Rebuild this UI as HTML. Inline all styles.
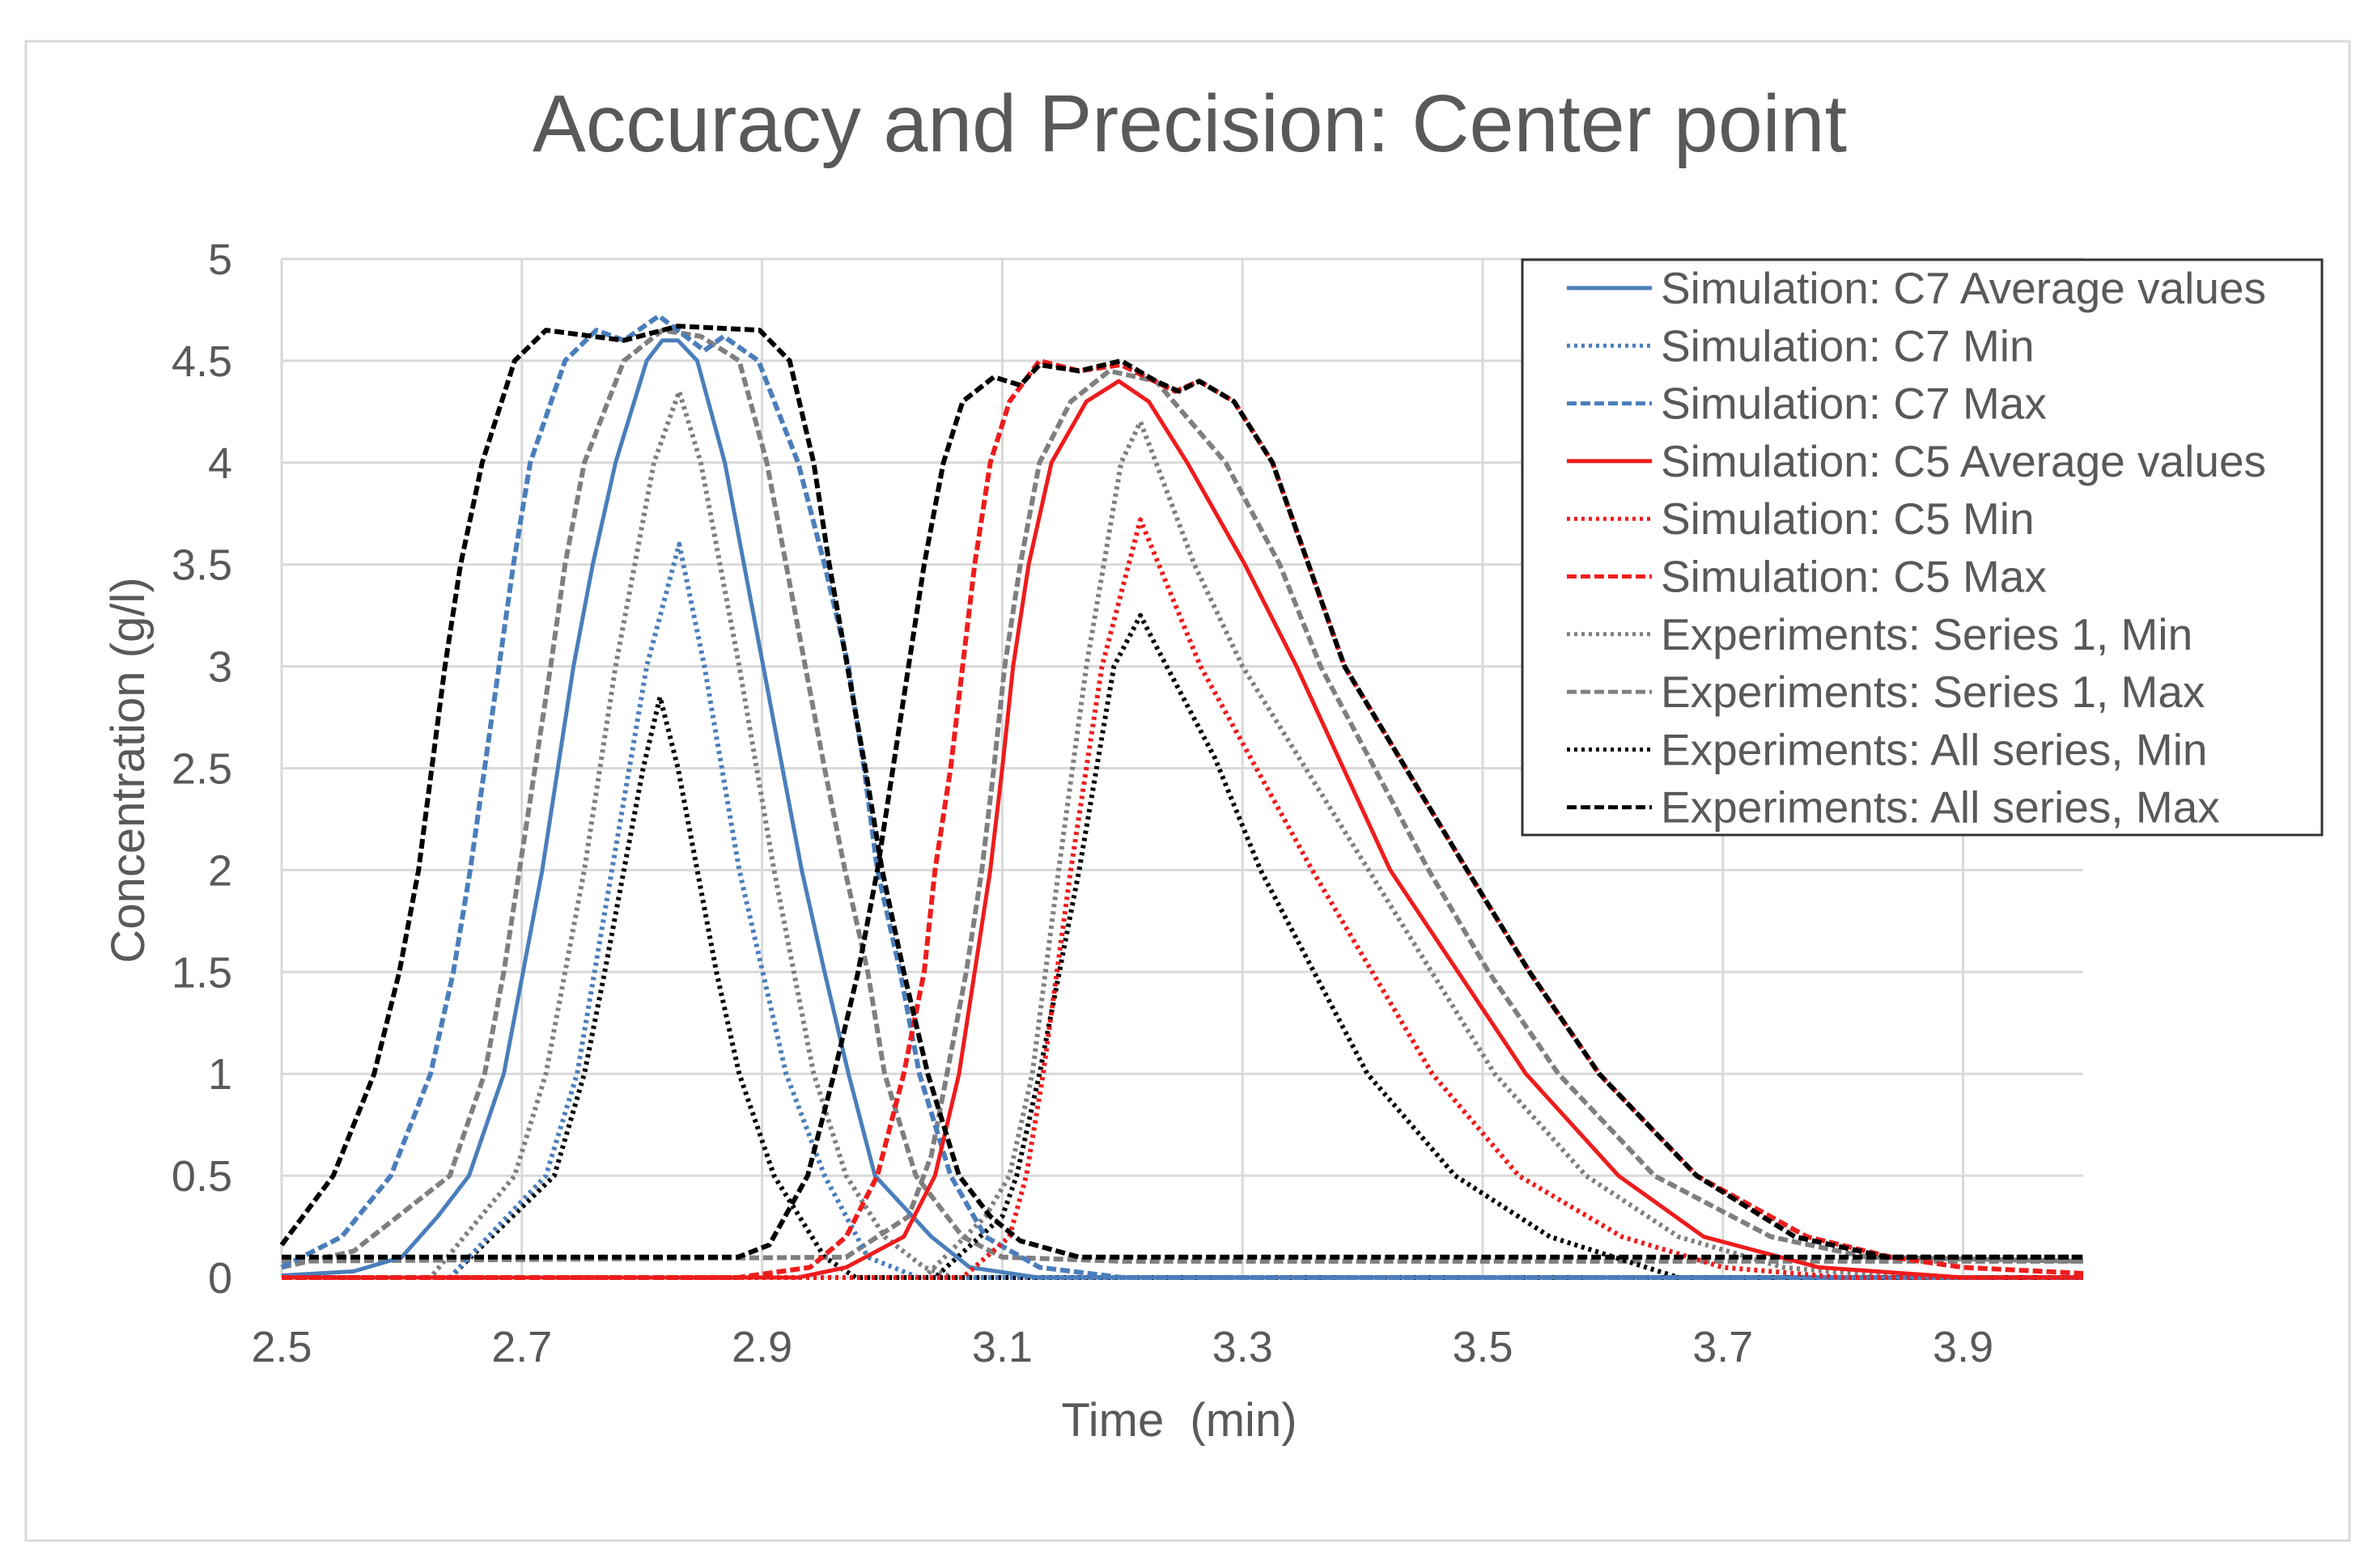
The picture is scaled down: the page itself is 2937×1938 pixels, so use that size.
<!DOCTYPE html>
<html><head><meta charset="utf-8"><style>
html,body{margin:0;padding:0;background:#fff;}
svg{display:block;font-family:"Liberation Sans",sans-serif;}
</style></head><body>
<svg id="chart" width="2937" height="1938" viewBox="0 0 2937 1938">
<rect x="32" y="51" width="2871" height="1853" fill="#fff" stroke="#d9d9d9" stroke-width="3"/>
<text x="1470" y="187" text-anchor="middle" font-size="100" fill="#595959" textLength="1624" lengthAdjust="spacingAndGlyphs">Accuracy and Precision: Center point</text>
<g id="grid"></g>
<g id="yticks"></g>
<g id="xticks"></g>
<g id="series"></g>
<text x="1457" y="1775" text-anchor="middle" font-size="58" fill="#595959" style="white-space:pre">Time&#160;&#160;(min)</text>
<text transform="translate(178,952) rotate(-90)" text-anchor="middle" font-size="58" fill="#595959">Concentration (g/l)</text>
<g id="legend">
<rect x="1881" y="321" width="988" height="711" fill="#fff" stroke="#333" stroke-width="3"/>
</g>
</svg>
<script>
const xTicks = [2.5, 2.7, 2.9, 3.1, 3.3, 3.5, 3.7, 3.9];
const yTicks = [0, 0.5, 1, 1.5, 2, 2.5, 3, 3.5, 4, 4.5, 5];
const xTickLabels = ["2.5","2.7","2.9","3.1","3.3","3.5","3.7","3.9"];
const yTickLabels = ["0","0.5","1","1.5","2","2.5","3","3.5","4","4.5","5"];
const seriesNames = ["Simulation: C7 Average values","Simulation: C7 Min","Simulation: C7 Max","Simulation: C5 Average values","Simulation: C5 Min","Simulation: C5 Max","Experiments: Series 1, Min","Experiments: Series 1, Max","Experiments: All series, Min","Experiments: All series, Max"];

// series data (x in min, y in g/l)
const c7AvgX = [2.5,2.56,2.6,2.63,2.656,2.685,2.701,2.717,2.73,2.743,2.759,2.778,2.804,2.817,2.83,2.846,2.869,2.885,2.901,2.917,2.933,2.952,2.972,2.994,3.041,3.073,3.13,4.0];
const c7AvgY = [0.01,0.03,0.1,0.3,0.5,1,1.5,2,2.5,3,3.5,4,4.5,4.6,4.6,4.5,4,3.5,3,2.5,2,1.5,1,0.5,0.2,0.05,0,0];
const c7MinX = [2.5,2.64,2.72,2.746,2.775,2.804,2.831,2.852,2.881,2.92,2.952,2.988,3.03,4.0];
const c7MinY = [0,0,0.5,1,2,3,3.6,3,2,1,0.5,0.1,0,0];
const c7MaxX = [2.5,2.55,2.591,2.624,2.643,2.657,2.669,2.681,2.693,2.707,2.736,2.762,2.785,2.814,2.852,2.868,2.897,2.93,2.952,2.972,2.985,2.996,3.015,3.031,3.057,3.086,3.131,3.2,4.0];
const c7MaxY = [0.05,0.2,0.5,1,1.5,2,2.5,3,3.5,4,4.5,4.65,4.6,4.72,4.55,4.62,4.5,4,3.5,3,2.5,2,1.5,1,0.5,0.2,0.05,0,0];
const c5AvgX = [2.5,2.93,2.97,3.018,3.044,3.064,3.077,3.09,3.1,3.109,3.122,3.141,3.17,3.197,3.222,3.254,3.302,3.345,3.423,3.536,3.613,3.684,3.78,3.9,4.0];
const c5AvgY = [0,0,0.05,0.2,0.5,1,1.5,2,2.5,3,3.5,4,4.3,4.4,4.3,4,3.5,3,2,1,0.5,0.2,0.05,0,0];
const c5MinX = [2.5,3.067,3.106,3.12,3.134,3.157,3.183,3.215,3.265,3.358,3.458,3.53,3.616,3.70,3.8,4.0];
const c5MinY = [0,0,0.2,0.5,1,2,3,3.72,3,2,1,0.5,0.2,0.05,0,0];
const c5MaxX = [2.5,2.88,2.94,2.97,2.996,3.018,3.035,3.044,3.057,3.067,3.077,3.09,3.106,3.131,3.164,3.199,3.244,3.264,3.293,3.325,3.355,3.385,3.487,3.539,3.597,3.678,3.77,3.84,3.9,4.0];
const c5MaxY = [0,0,0.05,0.2,0.5,1,1.5,2,2.5,3,3.5,4,4.3,4.5,4.45,4.48,4.35,4.4,4.3,4,3.5,3,2,1.5,1,0.5,0.2,0.1,0.05,0.02];
const s1MinAX = [2.5,2.624,2.694,2.72,2.752,2.778,2.81,2.831,2.849,2.881,2.91,2.943,2.97,3.002,3.035,3.06,4.0];
const s1MinAY = [0,0,0.5,1,2,3,4,4.35,4,3,2,1,0.5,0.2,0.05,0,0];
const s1MinBX = [2.5,3.035,3.086,3.106,3.125,3.147,3.17,3.199,3.215,3.228,3.26,3.30,3.405,3.51,3.586,3.663,3.75,3.85,4.0];
const s1MinBY = [0,0,0.3,0.5,1,2,3,4,4.2,4,3.5,3,2,1,0.5,0.2,0.05,0,0];
const s1MaxAX = [2.5,2.56,2.64,2.669,2.685,2.698,2.711,2.724,2.736,2.752,2.785,2.817,2.849,2.881,2.904,2.92,2.936,2.952,2.969,2.988,3.002,3.028,3.067,3.1,3.2,4.0];
const s1MaxAY = [0.05,0.13,0.5,1,1.5,2,2.5,3,3.5,4,4.5,4.65,4.62,4.5,4,3.5,3,2.5,2,1.5,1,0.5,0.2,0.1,0.08,0.08];
const s1MaxBX = [2.5,2.97,3.022,3.041,3.054,3.07,3.083,3.093,3.102,3.115,3.131,3.157,3.189,3.228,3.286,3.331,3.365,3.455,3.505,3.563,3.643,3.74,3.82,4.0];
const s1MaxBY = [0.08,0.1,0.3,0.6,1,1.5,2,2.5,3,3.5,4,4.3,4.45,4.4,4,3.5,3,2,1.5,1,0.5,0.2,0.1,0.08];
const allMinAX = [2.5,2.64,2.727,2.752,2.769,2.785,2.801,2.815,2.83,2.846,2.862,2.881,2.91,2.952,2.978,4.0];
const allMinAY = [0,0,0.5,1,1.5,2,2.5,2.85,2.5,2,1.5,1,0.5,0.1,0,0];
const allMinBX = [2.5,3.044,3.1,3.112,3.131,3.164,3.193,3.215,3.228,3.277,3.315,3.404,3.477,3.556,3.663,4.0];
const allMinBY = [0,0,0.3,0.5,1,2,3,3.25,3.1,2.55,2,1,0.5,0.2,0,0];
const allMaxAX = [2.5,2.543,2.577,2.598,2.614,2.625,2.636,2.649,2.667,2.694,2.72,2.785,2.83,2.898,2.923,2.943,2.956,2.971,2.986,3.0,3.018,3.038,3.064,3.09,3.115,3.164,3.6,4.0];
const allMaxAY = [0.16,0.5,1,1.5,2,2.5,3,3.5,4,4.5,4.65,4.6,4.67,4.65,4.5,4,3.5,3,2.5,2,1.5,1,0.5,0.3,0.18,0.1,0.1,0.1];
const allMaxBX = [2.5,2.7,2.88,2.906,2.938,2.96,2.98,2.996,3.009,3.022,3.035,3.051,3.067,3.093,3.115,3.131,3.164,3.199,3.228,3.247,3.264,3.293,3.325,3.355,3.385,3.487,3.539,3.597,3.678,3.76,3.837,4.0];
const allMaxBY = [0.1,0.1,0.1,0.16,0.5,1,1.5,2,2.5,3,3.5,4,4.3,4.42,4.38,4.48,4.45,4.5,4.4,4.35,4.4,4.3,4,3.5,3,2,1.5,1,0.5,0.2,0.1,0.1];

const NS = "http://www.w3.org/2000/svg";
const X0 = 348, XPU = 1484, Y0 = 1579, YPU = 251.8;
function sx(v){ return X0 + (v - 2.5) * XPU; }
function sy(v){ return Y0 - v * YPU; }
function mk(tag, attrs, parent){ const e = document.createElementNS(NS, tag); for (const k in attrs) e.setAttribute(k, attrs[k]); parent.appendChild(e); return e; }

const grid = document.getElementById('grid');
yTicks.forEach((t) => {
  const l = mk('line', {x1: sx(2.5), x2: sx(4.0), y1: sy(t), y2: sy(t), stroke: '#d9d9d9', 'stroke-width': 3}, grid);
  
  
});
xTicks.forEach((t) => {
  const l = mk('line', {x1: sx(t), x2: sx(t), y1: sy(0), y2: sy(5), stroke: '#d9d9d9', 'stroke-width': 3}, grid);
  
  
});
const yt = document.getElementById('yticks');
yTicks.forEach((t, i) => {
  const e = mk('text', {x: 287, y: sy(t) + 19, 'text-anchor': 'end', 'font-size': 54, fill: '#595959'}, yt);
  e.textContent = yTickLabels[i];
  
  
});
const xt = document.getElementById('xticks');
xTicks.forEach((t, i) => {
  const e = mk('text', {x: sx(t), y: 1683, 'text-anchor': 'middle', 'font-size': 54, fill: '#595959'}, xt);
  e.textContent = xTickLabels[i];
  
  
});

const BLUE = '#4a7ebb', RED = '#ee1c1c', GRAY = '#7f7f7f', BLACK = '#000';
const SOLID = '', DOT = '4 5', DASH = '12 5';
const styles = [
  [BLUE, SOLID], [BLUE, DOT], [BLUE, DASH], [RED, SOLID], [RED, DOT], [RED, DASH],
  [GRAY, DOT], [GRAY, DASH], [BLACK, DOT], [BLACK, DASH]
];
const draws = [
  [s1MinAX, s1MinAY, 6, 'series1-min-c7'], [s1MinBX, s1MinBY, 6, 'series1-min-c5'],
  [s1MaxAX, s1MaxAY, 7, 'series1-max-c7'], [s1MaxBX, s1MaxBY, 7, 'series1-max-c5'],
  [allMinAX, allMinAY, 8, 'all-series-min-c7'], [allMinBX, allMinBY, 8, 'all-series-min-c5'],
  [c7MinX, c7MinY, 1, 'sim-c7-min'], [c7MaxX, c7MaxY, 2, 'sim-c7-max'], [c7AvgX, c7AvgY, 0, 'sim-c7-average'],
  [c5MinX, c5MinY, 4, 'sim-c5-min'], [c5AvgX, c5AvgY, 3, 'sim-c5-average'], [c5MaxX, c5MaxY, 5, 'sim-c5-max'],
  [allMaxAX, allMaxAY, 9, 'all-series-max-c7'], [allMaxBX, allMaxBY, 9, 'all-series-max-c5']
];
const sg = document.getElementById('series');
draws.forEach((d) => {
  const xs = d[0], ys = d[1], st = styles[d[2]];
  const pts = xs.map((x, i) => sx(x).toFixed(1) + ',' + sy(ys[i]).toFixed(1)).join(' ');
  const p = mk('polyline', {points: pts, fill: 'none', stroke: st[0], 'stroke-width': (st[1] ? 6 : 5), 'stroke-linejoin': 'round'}, sg);
  if (st[1]) p.setAttribute('stroke-dasharray', st[1]);
  
  
});

const lg = document.getElementById('legend');
seriesNames.forEach((n, i) => {
  const y = 356 + i * 71.3;
  const st = styles[i];
  const l = mk('line', {x1: 1936, x2: 2041, y1: y, y2: y, stroke: st[0], 'stroke-width': 5}, lg);
  if (st[1]) l.setAttribute('stroke-dasharray', st[1]);
  
  
  const t = mk('text', {x: 2052, y: y + 19, 'font-size': 55, fill: '#595959'}, lg);
  t.textContent = n;
  
  
});
</script>
</body></html>
